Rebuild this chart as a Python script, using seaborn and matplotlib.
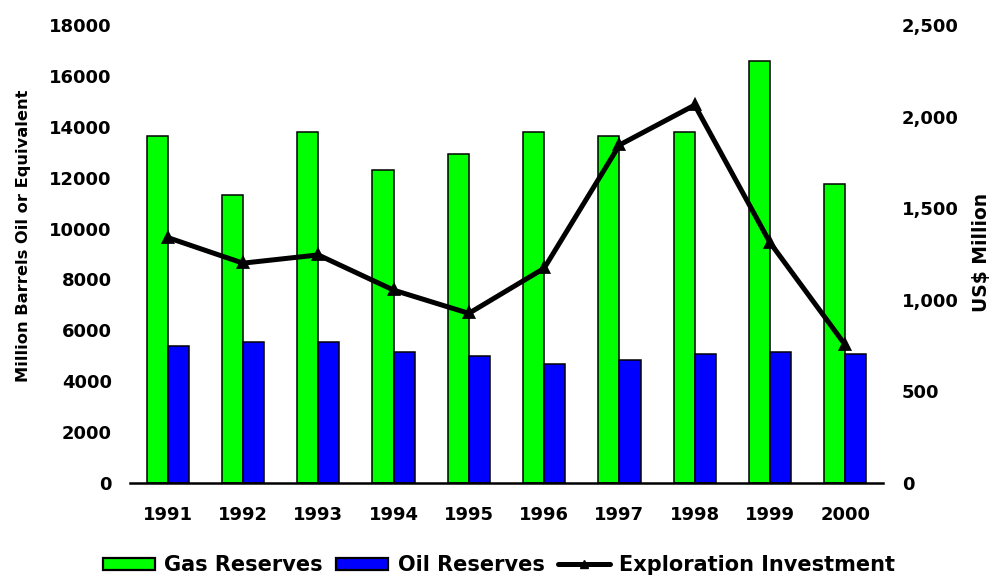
import numpy as np
import pandas as pd
import matplotlib
matplotlib.use("Agg")
import matplotlib.pyplot as plt
from matplotlib.patches import Patch
from matplotlib.lines import Line2D
from matplotlib.ticker import FixedLocator, FuncFormatter
import seaborn as sns

years = ["1991", "1992", "1993", "1994", "1995", "1996", "1997", "1998", "1999", "2000"]
gas_reserves = [13650, 11300, 13800, 12300, 12950, 13800, 13650, 13800, 16600, 11750]
oil_reserves = [5400, 5550, 5550, 5160, 5000, 4690, 4850, 5080, 5160, 5080]
exploration_investment = [1340, 1200, 1245, 1053, 926, 1172, 1845, 2063, 1312, 753]

series_names = ["Gas Reserves", "Oil Reserves", "Exploration Investment"]
left_ticks = [0, 2000, 4000, 6000, 8000, 10000, 12000, 14000, 16000, 18000]
right_ticks = [0, 500, 1000, 1500, 2000, 2500]

sns.set_style("white")
plt.rcParams["font.family"] = ["DejaVu Sans"]
plt.rcParams["font.weight"] = "bold"
for key in ("text.color", "axes.labelcolor", "xtick.color", "ytick.color",
            "xtick.labelcolor", "ytick.labelcolor"):
    plt.rcParams[key] = "black"

reserves = pd.DataFrame({
    "year": years * 2,
    "value": gas_reserves + oil_reserves,
    "kind": [series_names[0]] * len(years) + [series_names[1]] * len(years),
})
invest = pd.DataFrame({"year": years, "value": exploration_investment})

fig = plt.figure(figsize=(9.93, 5.79), dpi=100)
ax = fig.add_axes([0.1309, 0.1658, 0.8892 - 0.1309, 0.9568 - 0.1658])

palette = {series_names[0]: "#00FF00", series_names[1]: "#0000FF"}
sns.barplot(data=reserves, x="year", y="value", hue="kind", palette=palette,
            width=0.56, gap=0, edgecolor="black", linewidth=1.1,
            saturation=1, legend=False, ax=ax)
ax.set_xlim(-0.5, len(years) - 0.5)
ax.set_ylim(0, 18000)
ax.set_yticks(left_ticks)
ax.set_yticklabels([str(t) for t in left_ticks])
ax.set_xlabel("")
ax.set_ylabel("Million Barrels Oil or Equivalent", fontsize=11.7, fontweight="bold", color="black")
ax.yaxis.label.set(va="center", ha="center", rotation_mode="anchor")
ax.yaxis.set_label_coords(-0.141, 0.54)

ax2 = ax.twinx()
sns.pointplot(data=invest, x="year", y="value", color="black", markers="^",
              markersize=6, linewidth=3.6, ax=ax2)
ax2.set_ylim(0, 2500)
ax2.set_yticks(right_ticks)
ax2.yaxis.set_major_formatter(FuncFormatter(lambda v, p: f"{int(v):,}"))
ax2.set_xlim(-0.5, len(years) - 0.5)
ax2.set_xlabel("")
ax2.set_ylabel("US$ Million", fontsize=13.5, fontweight="bold", color="black")
ax2.yaxis.label.set(va="center", ha="center", rotation=90, rotation_mode="anchor")
ax2.yaxis.set_label_coords(1.1315, 0.504)

for a in (ax, ax2):
    for side in ("left", "right", "top"):
        a.spines[side].set_visible(False)
    a.grid(False)
ax.spines["bottom"].set_linewidth(1.8)
ax.spines["bottom"].set_color("black")
ax2.spines["bottom"].set_visible(False)

ax.tick_params(axis="y", length=0, pad=13, labelsize=13, labelcolor="black")
ax2.tick_params(axis="y", length=0, pad=13.5, labelsize=13, labelcolor="black")
ax.tick_params(axis="x", which="major", length=0, pad=16.5, labelsize=13, labelcolor="black")
ax.xaxis.set_minor_locator(FixedLocator(np.arange(-0.5, len(years), 1.0)))
ax.tick_params(axis="x", which="minor", direction="in", length=4.5, width=1.4, color="black")
for lbl in ax.get_xticklabels() + ax.get_yticklabels() + ax2.get_yticklabels():
    lbl.set_fontweight("bold")

handles = [
    Patch(facecolor="#00FF00", edgecolor="black", linewidth=1.6),
    Patch(facecolor="#0000FF", edgecolor="black", linewidth=1.6),
    Line2D([0], [0], color="black", linewidth=3.6, marker="^", markersize=6),
]
fig.legend(handles, series_names, loc="center", bbox_to_anchor=(0.5025, 0.024), ncol=3,
           frameon=False, prop={"weight": "bold", "size": 15}, handlelength=2.5,
           handleheight=0.5, columnspacing=0.65, handletextpad=0.45,
           borderaxespad=0, borderpad=0, labelcolor="black")

fig.savefig("out.png", dpi=100)
